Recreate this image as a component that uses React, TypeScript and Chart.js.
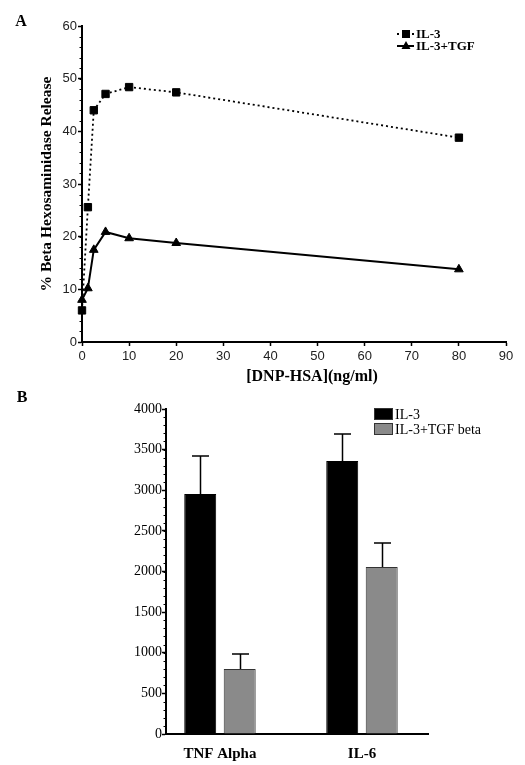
import React, { useEffect, useRef } from 'react';
import { Chart, registerables } from 'chart.js';

Chart.register(...registerables);

// ---------- Panel A data ----------
const doseNgMl = [0, 1.25, 2.5, 5, 10, 20, 80];
const il3Release = [6.0, 25.6, 44.0, 47.1, 48.4, 47.4, 38.8];
const il3TgfRelease = [8.0, 10.2, 17.5, 20.9, 19.7, 18.8, 13.8];
const seriesLabelsA = ['IL-3', 'IL-3+TGF'];

// ---------- Panel B data ----------
const cytokines = ['TNF Alpha', 'IL-6'];
const il3Cytokine = [2955, 3360];
const il3CytokineErr = [467, 332];
const tgfCytokine = [800, 2055];
const tgfCytokineErr = [185, 296];
const seriesLabelsB = ['IL-3', 'IL-3+TGF beta'];

const SERIF = '"Liberation Serif", "Times New Roman", serif';
const SANS = '"Liberation Sans", Arial, sans-serif';

type TextItem = { text: string; x: number; y: number; font: string; align?: CanvasTextAlign };

const textPlugin = (id: string, items: TextItem[]) => ({
  id,
  afterDraw(chart: any) {
    const ctx = chart.ctx;
    ctx.save();
    ctx.fillStyle = '#000';
    ctx.textBaseline = 'middle';
    for (const it of items) {
      ctx.font = it.font;
      ctx.textAlign = it.align || 'center';
      ctx.fillText(it.text, it.x, it.y);
    }
    ctx.restore();
  },
});

const minorTicksPlugin = (id: string, scaleId: string, step: number, len: number) => ({
  id,
  afterDraw(chart: any) {
    const s = chart.scales[scaleId];
    const ctx = chart.ctx;
    ctx.save();
    ctx.strokeStyle = '#000';
    ctx.lineWidth = 1;
    for (let v = s.min; v <= s.max + 1e-9; v += step) {
      const y = Math.round(s.getPixelForValue(v)) + 0.5;
      ctx.beginPath();
      ctx.moveTo(s.right - len, y);
      ctx.lineTo(s.right, y);
      ctx.stroke();
    }
    ctx.restore();
  },
});

const legendAPlugin = {
  id: 'legendA',
  afterDraw(chart: any) {
    const ctx = chart.ctx;
    const rows = [34, 46];
    ctx.save();
    chart.data.datasets.forEach((ds: any, i: number) => {
      const y = rows[i];
      ctx.strokeStyle = '#000';
      ctx.fillStyle = '#000';
      ctx.lineWidth = ds.borderWidth;
      ctx.setLineDash(ds.borderDash || []);
      ctx.beginPath();
      ctx.moveTo(397, y);
      ctx.lineTo(414, y);
      ctx.stroke();
      ctx.setLineDash([]);
      const cx = 406;
      if (ds.pointStyle === 'rect') {
        ctx.fillRect(cx - 4, y - 4, 8, 8);
      } else {
        ctx.beginPath();
        ctx.moveTo(cx, y - 5);
        ctx.lineTo(cx + 4.5, y + 3);
        ctx.lineTo(cx - 4.5, y + 3);
        ctx.closePath();
        ctx.fill();
      }
      ctx.font = 'bold 13px ' + SERIF;
      ctx.textAlign = 'left';
      ctx.textBaseline = 'middle';
      ctx.fillText(ds.label, 416, y + 1);
    });
    ctx.restore();
  },
};

const legendBPlugin = {
  id: 'legendB',
  afterDraw(chart: any) {
    const ctx = chart.ctx;
    const rows = [24, 39];
    ctx.save();
    chart.data.datasets.forEach((ds: any, i: number) => {
      const y = rows[i];
      ctx.fillStyle = ds.backgroundColor;
      ctx.fillRect(374, y - 6, 19, 12);
      ctx.strokeStyle = '#333';
      ctx.lineWidth = 1;
      ctx.strokeRect(374.5, y - 5.5, 18, 11);
      ctx.fillStyle = '#000';
      ctx.font = '14px ' + SERIF;
      ctx.textAlign = 'left';
      ctx.textBaseline = 'middle';
      ctx.fillText(ds.label, 395, y + 1);
    });
    ctx.restore();
  },
};

const errorBarPlugin = (errs: number[][]) => ({
  id: 'errorBars',
  afterDatasetsDraw(chart: any) {
    const ctx = chart.ctx;
    const yScale = chart.scales.y;
    ctx.save();
    ctx.strokeStyle = '#000';
    ctx.lineWidth = 1.5;
    chart.data.datasets.forEach((ds: any, di: number) => {
      const meta = chart.getDatasetMeta(di);
      meta.data.forEach((el: any, j: number) => {
        const v = ds.data[j].y;
        const top = yScale.getPixelForValue(v + errs[di][j]);
        const x = Math.round(el.x) + 0.5;
        ctx.beginPath();
        ctx.moveTo(x, el.y);
        ctx.lineTo(x, top);
        ctx.moveTo(x - 8.5, top);
        ctx.lineTo(x + 8.5, top);
        ctx.stroke();
      });
    });
    ctx.restore();
  },
});

export default function App() {
  const refA = useRef<HTMLCanvasElement>(null);
  const refB = useRef<HTMLCanvasElement>(null);

  useEffect(() => {
    const chartA = new Chart(refA.current as HTMLCanvasElement, {
      type: 'line',
      data: {
        datasets: [
          {
            label: seriesLabelsA[0],
            data: doseNgMl.map((x, i) => ({ x, y: il3Release[i] })),
            borderColor: '#000',
            backgroundColor: '#000',
            borderWidth: 1.8,
            borderDash: [2, 3],
            pointStyle: 'rect',
            pointRadius: 5.2,
            pointBorderWidth: 1,
            clip: false,
          } as any,
          {
            label: seriesLabelsA[1],
            data: doseNgMl.map((x, i) => ({ x, y: il3TgfRelease[i] })),
            borderColor: '#000',
            backgroundColor: '#000',
            borderWidth: 2,
            pointStyle: 'triangle',
            pointRadius: 5,
            pointBorderWidth: 1,
            clip: false,
          } as any,
        ],
      },
      options: {
        animation: false,
        responsive: false,
        layout: { padding: { top: 26, right: 19, left: 0, bottom: 0 } },
        plugins: { legend: { display: false }, tooltip: { enabled: false } },
        scales: {
          x: {
            type: 'linear',
            min: 0,
            max: 90,
            ticks: { stepSize: 10, padding: 3, color: '#222', font: { family: SANS, size: 13 } },
            grid: { drawOnChartArea: false, tickLength: 4, color: '#000', tickWidth: 1.5 },
            border: { color: '#000', width: 2 },
            afterFit: (s: any) => { s.height = 48; },
          },
          y: {
            min: 0,
            max: 60,
            ticks: { stepSize: 10, padding: 1, color: '#222', font: { family: SANS, size: 13 } },
            grid: { drawOnChartArea: false, tickLength: 4, color: '#000', tickWidth: 1.5 },
            border: { color: '#000', width: 2 },
            title: {
              display: true,
              text: '% Beta Hexosaminidase Release',
              color: '#000',
              font: { family: SERIF, size: 15.5, weight: 'bold' },
              padding: { top: 38, bottom: 0 },
            },
            afterFit: (s: any) => { s.width = 82; },
          },
        },
      } as any,
      plugins: [
        minorTicksPlugin('minorA', 'y', 2, 2.5),
        legendAPlugin,
        textPlugin('textsA', [
          { text: 'A', x: 21, y: 22, font: 'bold 16px ' + SERIF },
          { text: '[DNP-HSA](ng/ml)', x: 312, y: 377, font: 'bold 16px ' + SERIF },
        ]),
      ],
    });

    const chartB = new Chart(refB.current as HTMLCanvasElement, {
      type: 'bar',
      data: {
        datasets: [
          {
            label: seriesLabelsB[0],
            data: cytokines.map((_, i) => ({ x: i, y: il3Cytokine[i] })),
            backgroundColor: '#000',
            borderColor: '#000',
            borderWidth: 1,
          },
          {
            label: seriesLabelsB[1],
            data: cytokines.map((_, i) => ({ x: i, y: tgfCytokine[i] })),
            backgroundColor: '#8a8a8a',
            borderColor: '#333',
            borderWidth: 1,
          },
        ],
      },
      options: {
        animation: false,
        responsive: false,
        categoryPercentage: 0.556,
        barPercentage: 0.81,
        layout: { padding: { top: 19, right: 97, left: 0, bottom: 0 } },
        plugins: { legend: { display: false }, tooltip: { enabled: false } },
        scales: {
          x: {
            type: 'linear',
            offset: false,
            min: -0.38,
            max: 1.465,
            ticks: {
              stepSize: 1,
              includeBounds: false,
              padding: 3,
              color: '#000',
              font: { family: SERIF, size: 15, weight: 'bold' },
              callback: (v: any) => (Number.isInteger(v) && cytokines[v] !== undefined ? cytokines[v] : ''),
            },
            grid: { display: false, offset: false },
            border: { color: '#000', width: 2 },
            afterFit: (s: any) => { s.height = 31; },
          },
          y: {
            min: 0,
            max: 4000,
            ticks: {
              stepSize: 500,
              padding: 0,
              color: '#000',
              font: { family: SERIF, size: 14 },
              callback: (v: any) => String(v),
            },
            grid: { drawOnChartArea: false, tickLength: 4, color: '#000', tickWidth: 1.5 },
            border: { color: '#000', width: 2 },
            afterFit: (s: any) => { s.width = 166; },
          },
        },
      } as any,
      plugins: [
        minorTicksPlugin('minorB', 'y', 100, 2.5),
        errorBarPlugin([il3CytokineErr, tgfCytokineErr]),
        legendBPlugin,
        textPlugin('textsB', [{ text: 'B', x: 22, y: 8, font: 'bold 16px ' + SERIF }]),
      ],
    });

    return () => {
      chartA.destroy();
      chartB.destroy();
    };
  }, []);

  return (
    <div style={{ position: 'absolute', left: 0, top: 0, width: 525, height: 765, background: '#fff' }}>
      <canvas ref={refA} width={525} height={390} style={{ position: 'absolute', left: 0, top: 0, display: 'block' }} />
      <canvas ref={refB} width={525} height={375} style={{ position: 'absolute', left: 0, top: 390, display: 'block' }} />
    </div>
  );
}
